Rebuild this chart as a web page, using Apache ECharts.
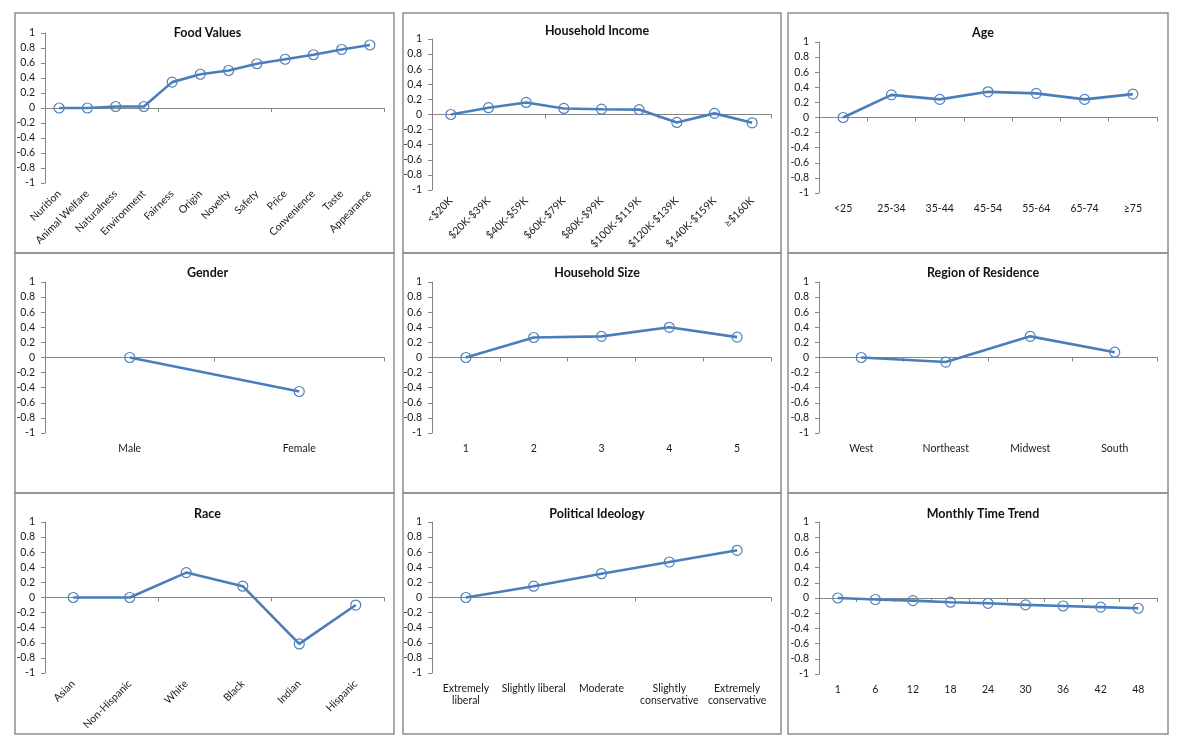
<!DOCTYPE html>
<html>
<head>
<meta charset="utf-8">
<script src="https://cdn.jsdelivr.net/npm/echarts@6/dist/echarts.min.js"></script>
<style>
html,body{margin:0;padding:0;background:#fff;}
#chart{width:1180px;height:747px;}
</style>
</head>
<body>
<div id="chart"></div>
<script>
// ---- Data ----
const foodCats = ['Nurition','Animal Welfare','Naturalness','Environment','Fairness','Origin','Novelty','Safety','Price','Convenience','Taste','Appearance'];
const foodVals = [0, 0, 0.02, 0.02, 0.345, 0.45, 0.50, 0.59, 0.65, 0.71, 0.78, 0.84];

const incomeCats = ['<$20K','$20K-$39K','$40K-$59K','$60K-$79K','$80K-$99K','$100K-$119K','$120K-$139K','$140K-$159K','≥$160K'];
const incomeVals = [0, 0.09, 0.16, 0.08, 0.07, 0.065, -0.105, 0.015, -0.11];

const ageCats = ['<25','25-34','35-44','45-54','55-64','65-74','≥75'];
const ageVals = [0, 0.30, 0.24, 0.34, 0.32, 0.24, 0.31];

const genderCats = ['Male','Female'];
const genderVals = [0, -0.45];

const hhSizeCats = ['1','2','3','4','5'];
const hhSizeVals = [0, 0.265, 0.28, 0.40, 0.27];

const regionCats = ['West','Northeast','Midwest','South'];
const regionVals = [0, -0.06, 0.28, 0.07];

const raceCats = ['Asian','Non-Hispanic','White','Black','Indian','Hispanic'];
const raceVals = [0, 0, 0.33, 0.15, -0.615, -0.10];

const politicsCats = ['Extremely liberal','Slightly liberal','Moderate','Slightly conservative','Extremely conservative'];
const politicsVals = [0, 0.15, 0.315, 0.47, 0.625];

const monthCats = ['1','6','12','18','24','30','36','42','48'];
const monthVals = [0, -0.02, -0.035, -0.055, -0.07, -0.09, -0.105, -0.12, -0.135];

const yTicks = [-1,-0.8,-0.6,-0.4,-0.2,0,0.2,0.4,0.6,0.8,1];

const panels = [
  {title:'Food Values', cats:foodCats, vals:foodVals, rotate:45},
  {title:'Household Income', cats:incomeCats, vals:incomeVals, rotate:45},
  {title:'Age', cats:ageCats, vals:ageVals, rotate:0},
  {title:'Gender', cats:genderCats, vals:genderVals, rotate:0},
  {title:'Household Size', cats:hhSizeCats, vals:hhSizeVals, rotate:0},
  {title:'Region of Residence', cats:regionCats, vals:regionVals, rotate:0},
  {title:'Race', cats:raceCats, vals:raceVals, rotate:45},
  {title:'Political Ideology', cats:politicsCats, vals:politicsVals, rotate:0, wrap:true},
  {title:'Monthly Time Trend', cats:monthCats, vals:monthVals, rotate:0}
];

// ---- Layout (panel boxes and plot areas) ----
const colBox = [[15,394],[403,781],[788,1168]];
const rowBox = [[13,253],[253,493],[493,734]];
const plotX = [[45,384],[432,771],[819,1157]];
const plotY = [[[33,183],[39,190],[42,193]],[[282,433],[282,433],[282,433]],[[522,673],[522,673],[522,674]]];
const titleY = [[21,19,21],[261,261,261],[502,502,502]];

const FONT = 'Lato, "Open Sans", sans-serif';
const lineColor = '#4A7EBB';
const axisGray = '#868686';

const grids = [], xAxes = [], yAxes = [], series = [], titles = [], graphics = [];

panels.forEach((p, i) => {
  const r = Math.floor(i/3), c = i%3;
  const [x0, x1] = plotX[c];
  const [y0, y1] = plotY[r][c];
  grids.push({left:x0, top:y0, width:x1-x0, height:y1-y0, containLabel:false});
  graphics.push({type:'rect', silent:true, z:-1,
    shape:{x:colBox[c][0], y:rowBox[r][0], width:colBox[c][1]-colBox[c][0], height:rowBox[r][1]-rowBox[r][0]},
    style:{fill:'none', stroke:'#8f8f8f', lineWidth:1.5}});
  titles.push({text:p.title, left:(colBox[c][0]+colBox[c][1])/2 + (c===0? -2 : 0), top:titleY[r][c], textAlign:'center',
    textStyle:{fontFamily:FONT, fontWeight:'bold', fontSize:12.5, color:'#111'}});
  // axis at zero: line + ticks
  xAxes.push({type:'category', gridIndex:i, data:p.cats, position:'bottom',
    axisLine:{onZero:true, lineStyle:{color:axisGray, width:1}},
    axisTick:{show:true, length:4, lineStyle:{color:axisGray}},
    axisLabel:{show:false}, splitLine:{show:false}});
  // label axis at bottom of plot
  xAxes.push({type:'category', gridIndex:i, data:p.cats, position:'bottom',
    axisLine:{show:false, onZero:false}, axisTick:{show:false}, splitLine:{show:false},
    axisLabel:{show:true, interval:0, rotate:p.rotate, margin: p.rotate ? 9 : 10,
      fontFamily:FONT, fontSize:10.5, color:'#1a1a1a', lineHeight:12,
      formatter: p.wrap ? (v => v.length > 16 ? v.replace(' ', '\n') : v) : (v => v)}});
  yAxes.push({type:'value', gridIndex:i, min:yTicks[0], max:yTicks[yTicks.length-1], interval:0.2,
    axisLine:{show:true, lineStyle:{color:axisGray}},
    axisTick:{show:true, length:4, lineStyle:{color:axisGray}},
    splitLine:{show:false},
    axisLabel:{margin:10, fontFamily:FONT, fontSize:10.5, color:'#1a1a1a',
      formatter: v => String(Math.round(v*10)/10)}});
  series.push({type:'line', xAxisIndex:2*i, yAxisIndex:i, data:p.vals,
    symbol:'circle', symbolSize:10, showAllSymbol:true, animation:false,
    lineStyle:{color:lineColor, width:2.6},
    itemStyle:{color:'rgba(255,255,255,0)', borderColor:'#4F81BD', borderWidth:1.2},
    z:3});
});

const chart = echarts.init(document.getElementById('chart'), null, {renderer:'canvas'});
chart.setOption({
  animation:false,
  backgroundColor:'#fff',
  title:titles,
  grid:grids,
  xAxis:xAxes,
  yAxis:yAxes,
  series:series,
  graphic:graphics
});
</script>
</body>
</html>
